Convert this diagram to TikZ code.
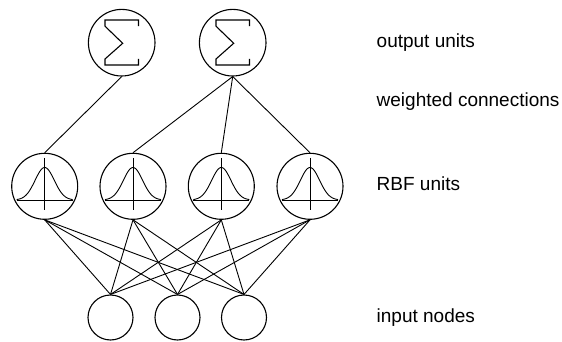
\documentclass[tikz,border=0pt]{standalone}
\usepackage{fontspec}
\setmainfont{Liberation Sans}
\begin{document}
\begin{tikzpicture}[x=1pt,y=-1pt,
  unitc/.style={circle, draw, line width=1.1pt, inner sep=0pt},
  outunit/.style={unitc, minimum size=66.6pt},
  rbfunit/.style={unitc, minimum size=66pt},
  inunit/.style={unitc, minimum size=45pt},
  conn/.style={line width=0.9pt},
  lbl/.style={anchor=base west, inner sep=0pt, font=\fontsize{19}{22}\selectfont},
  sigmapic/.pic={
    \draw[line width=1.1pt, line join=miter]
      (16.8,-16.5) -- (16.8,-22.7) -- (-16.7,-22.7) -- (-16.7,-16.5)
      -- (1,0.6) -- (-16.7,16.3) -- (-16.7,22.3) -- (16.8,22.3) -- (16.8,16.3);
  },
  gausspic/.pic={
    \draw[line width=0.9pt] (-28,13.7) -- (28,13.7);
    \draw[line width=0.9pt] (0,-28.5) -- (0,23.7);
    \draw[line width=0.9pt] plot[domain=-28:28, samples=81, smooth]
      (\x, {13.7-32.5*exp(-(\x*\x)/(2*9.6*9.6))});
  }
]
\useasboundingbox (0,0) rectangle (562,342);

% output units
\node[outunit] (o1) at (121.7,42.7) {};
\node[outunit] (o2) at (232.7,42.7) {};
\pic at (o1.center) {sigmapic};
\pic at (o2.center) {sigmapic};

% RBF units
\node[rbfunit] (r1) at (44.7,186.3) {};
\node[rbfunit] (r2) at (133.0,186.3) {};
\node[rbfunit] (r3) at (221.3,186.3) {};
\node[rbfunit] (r4) at (310.0,186.3) {};
\foreach \n in {r1,r2,r3,r4} { \pic at (\n.center) {gausspic}; }

% input nodes
\node[inunit] (i1) at (110.5,317.5) {};
\node[inunit] (i2) at (177.5,317.5) {};
\node[inunit] (i3) at (244.0,317.5) {};

% weighted connections
\draw[conn] (o1.south) -- (r1.north);
\draw[conn] (o2.south) -- (r2.north);
\draw[conn] (o2.south) -- (r3.north);
\draw[conn] (o2.south) -- (r4.north);

\foreach \r in {r1,r2,r3,r4} {
  \foreach \i in {i1,i2,i3} {
    \draw[conn] (\r.south) -- (\i.north);
  }
}

% labels
\node[lbl] (l1) at (376.5,47.7) {output units};
\node[lbl] (l2) at (376.5,106.7) {weighted connections};
\node[lbl] (l3) at (376.5,190.0) {RBF units};
\node[lbl] (l4) at (376.5,322.3) {input nodes};
\end{tikzpicture}
\end{document}
